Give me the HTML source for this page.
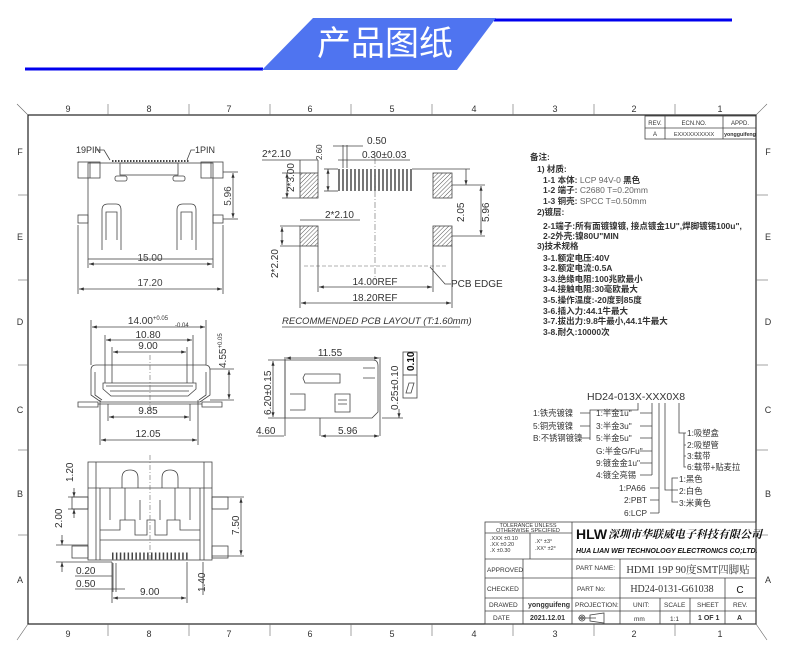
<!DOCTYPE html>
<html><head><meta charset="utf-8"><style>
html,body{margin:0;padding:0;background:#fff}
svg{display:block}
text{font-family:"Liberation Sans","Noto Sans CJK SC",sans-serif;fill:#333}
.s{font-family:"Liberation Serif","Noto Serif CJK SC",serif;fill:#111}
.d{font-size:10px;fill:#444}
.l{stroke:#444;stroke-width:0.8;fill:none}
.t{stroke:#666;stroke-width:0.6;fill:none}
.k{stroke:#222;stroke-width:1.2;fill:none}
</style></head><body>
<svg width="790" height="663" viewBox="0 0 790 663" xmlns="http://www.w3.org/2000/svg">
<defs>
<pattern id="h" width="3" height="3" patternUnits="userSpaceOnUse" patternTransform="rotate(45)"><line x1="0" y1="0" x2="0" y2="3" stroke="#555" stroke-width="1"/></pattern>
<marker id="a" markerWidth="6" markerHeight="4" refX="6" refY="2" orient="auto-start-reverse"><path d="M0,0 L6,2 L0,4z" fill="#333"/></marker>
</defs>
<line x1="25" y1="69" x2="263" y2="69" stroke="#0000ee" stroke-width="3"/>
<line x1="494" y1="20" x2="732" y2="20" stroke="#0000ee" stroke-width="3"/>
<polygon points="313,18 496,18 457,70 262,70" fill="#4f74f0"/>
<text x="385" y="55" text-anchor="middle" style="font-size:34px;fill:#fff;font-family:'Noto Sans CJK SC',sans-serif">产品图纸</text>
<rect x="28" y="115" width="728" height="509" class="k"/>
<path d="M17,104 L28,115 M767,104 L756,115 M17,640 L28,624 M767,640 L756,624" class="t"/>
<g class="t"><line x1="108" y1="104" x2="108" y2="115"/><line x1="189" y1="104" x2="189" y2="115"/><line x1="270" y1="104" x2="270" y2="115"/><line x1="351" y1="104" x2="351" y2="115"/><line x1="432" y1="104" x2="432" y2="115"/><line x1="513" y1="104" x2="513" y2="115"/><line x1="594" y1="104" x2="594" y2="115"/><line x1="675" y1="104" x2="675" y2="115"/>
<line x1="108" y1="624" x2="108" y2="636"/><line x1="189" y1="624" x2="189" y2="636"/><line x1="270" y1="624" x2="270" y2="636"/><line x1="351" y1="624" x2="351" y2="636"/><line x1="432" y1="624" x2="432" y2="636"/><line x1="513" y1="624" x2="513" y2="636"/><line x1="594" y1="624" x2="594" y2="636"/><line x1="675" y1="624" x2="675" y2="636"/>
<line x1="18" y1="195" x2="28" y2="195"/><line x1="18" y1="280" x2="28" y2="280"/><line x1="18" y1="365" x2="28" y2="365"/><line x1="18" y1="450" x2="28" y2="450"/><line x1="18" y1="535" x2="28" y2="535"/>
<line x1="756" y1="195" x2="768" y2="195"/><line x1="756" y1="280" x2="768" y2="280"/><line x1="756" y1="365" x2="768" y2="365"/><line x1="756" y1="450" x2="768" y2="450"/><line x1="756" y1="535" x2="768" y2="535"/></g>
<g style="font-size:9px" text-anchor="middle">
<text x="68" y="112">9</text><text x="149" y="112">8</text><text x="229" y="112">7</text><text x="310" y="112">6</text><text x="392" y="112">5</text><text x="474" y="112">4</text><text x="555" y="112">3</text><text x="634" y="112">2</text><text x="720" y="112">1</text>
<text x="68" y="637">9</text><text x="149" y="637">8</text><text x="229" y="637">7</text><text x="310" y="637">6</text><text x="392" y="637">5</text><text x="474" y="637">4</text><text x="555" y="637">3</text><text x="634" y="637">2</text><text x="720" y="637">1</text>
<text x="20" y="155">F</text><text x="20" y="240">E</text><text x="20" y="325">D</text><text x="20" y="413">C</text><text x="20" y="497">B</text><text x="20" y="583">A</text>
<text x="768" y="155">F</text><text x="768" y="240">E</text><text x="768" y="325">D</text><text x="768" y="413">C</text><text x="768" y="497">B</text><text x="768" y="583">A</text>
</g>
<g class="l"><rect x="645" y="116" width="111" height="23"/><line x1="645" y1="128" x2="756" y2="128"/><line x1="665" y1="116" x2="665" y2="139"/><line x1="723" y1="116" x2="723" y2="139"/></g>
<g style="font-size:6px" text-anchor="middle"><text x="655" y="125">REV.</text><text x="694" y="125">ECN.NO.</text><text x="740" y="125">APPD.</text><text x="655" y="136">A</text><text x="694" y="136" style="font-size:5.5px">EXXXXXXXXXX</text><text x="740" y="136" style="font-weight:bold;font-size:5.3px">yongguifeng</text></g>

<g class="l">
<rect x="88" y="163" width="125" height="96"/>
<rect x="78" y="162" width="22" height="16"/><rect x="201" y="162" width="22" height="16"/>
<line x1="90" y1="162" x2="90" y2="178"/><line x1="211" y1="162" x2="211" y2="178"/>
<rect x="120" y="163" width="58" height="12"/>
<rect x="115" y="176" width="12" height="5" rx="2"/><rect x="173" y="176" width="12" height="5" rx="2"/>
<rect x="78" y="215" width="10" height="8"/><rect x="213" y="215" width="10" height="8"/>
<path d="M102,250 L102,210 Q102,204 108,204 L116,204 Q121,204 121,210 L121,250"/><path d="M106,240 L106,212 L117,212 L117,240"/>
<path d="M177,250 L177,210 Q177,204 183,204 L191,204 Q196,204 196,210 L196,250"/><path d="M181,240 L181,212 L192,212 L192,240"/>
<line x1="88" y1="259" x2="88" y2="268"/><line x1="213" y1="259" x2="213" y2="268"/><line x1="78" y1="225" x2="78" y2="294"/><line x1="223" y1="225" x2="223" y2="294"/>
<line x1="223" y1="172" x2="238" y2="172"/><line x1="223" y1="219" x2="238" y2="219"/>
</g>
<path d="M112,161 h78" stroke="#444" stroke-width="2" stroke-dasharray="1.5,1.5"/>
<g class="l"><line x1="89" y1="264" x2="212" y2="264" marker-start="url(#a)" marker-end="url(#a)"/><line x1="79" y1="289" x2="222" y2="289" marker-start="url(#a)" marker-end="url(#a)"/><line x1="233" y1="173" x2="233" y2="218" marker-start="url(#a)" marker-end="url(#a)"/>
<path d="M96,150 L104,150 L110,160"/><path d="M195,150 L191,150 L187,160"/></g>
<text class="d" x="150" y="261" text-anchor="middle">15.00</text><text class="d" x="150" y="286" text-anchor="middle">17.20</text>
<text class="d" x="231" y="196" text-anchor="middle" transform="rotate(-90 231 196)">5.96</text>
<text x="76" y="153" style="font-size:9px">19PIN</text><text x="195" y="153" style="font-size:9px">1PIN</text>

<g stroke="#444" stroke-width="0.8"><rect x="300" y="173" width="18" height="25" fill="url(#h)"/><rect x="433" y="173" width="19" height="25" fill="url(#h)"/><rect x="300" y="226" width="18" height="20" fill="url(#h)"/><rect x="433" y="226" width="19" height="20" fill="url(#h)"/></g>
<g stroke="#555" stroke-width="1.6"><path d="M339,169v22M343,169v22M347,169v22M351,169v22M355,169v22M359,169v22M363,169v22M367,169v22M371,169v22M375,169v22M379,169v22M383,169v22M387,169v22M391,169v22M395,169v22M399,169v22M403,169v22M407,169v22M411,169v22"/></g>
<g class="t"><line x1="375" y1="158" x2="375" y2="280" stroke-dasharray="6,2,1,2"/><line x1="304" y1="266" x2="448" y2="266" stroke-dasharray="4,2"/></g>
<g class="l">
<line x1="300" y1="246" x2="300" y2="308"/><line x1="452" y1="246" x2="452" y2="308"/><line x1="318" y1="246" x2="318" y2="292"/><line x1="433" y1="246" x2="433" y2="292"/>
<line x1="319" y1="287" x2="432" y2="287" marker-start="url(#a)" marker-end="url(#a)"/><line x1="301" y1="303" x2="451" y2="303" marker-start="url(#a)" marker-end="url(#a)"/>
<line x1="262" y1="160" x2="318" y2="160"/><line x1="300" y1="160" x2="300" y2="173"/><line x1="318" y1="160" x2="318" y2="173"/>
<line x1="287" y1="173" x2="287" y2="198" marker-start="url(#a)" marker-end="url(#a)"/><line x1="282" y1="173" x2="300" y2="173"/><line x1="282" y1="198" x2="300" y2="198"/>
<line x1="328" y1="169" x2="328" y2="191" marker-start="url(#a)" marker-end="url(#a)"/><line x1="324" y1="169" x2="338" y2="169"/><line x1="324" y1="191" x2="338" y2="191"/>
<line x1="333" y1="146" x2="363" y2="146"/><line x1="343" y1="145" x2="343" y2="168"/><line x1="347" y1="145" x2="347" y2="168"/><line x1="338" y1="160" x2="410" y2="160"/>
<line x1="412" y1="169" x2="470" y2="169"/><line x1="452" y1="185" x2="485" y2="185"/><line x1="452" y1="236" x2="485" y2="236"/>
<line x1="466" y1="169" x2="466" y2="185" marker-end="url(#a)"/><line x1="481" y1="186" x2="481" y2="235" marker-start="url(#a)" marker-end="url(#a)"/>
<line x1="300" y1="220" x2="360" y2="220"/><line x1="280" y1="226" x2="300" y2="226"/><line x1="280" y1="246" x2="300" y2="246"/><line x1="282" y1="227" x2="282" y2="245" marker-start="url(#a)" marker-end="url(#a)"/>
<path d="M430,267 L445,284 L451,284"/>
<line x1="282" y1="327" x2="460" y2="327"/>
</g>
<g class="d" style="font-size:10px">
<text x="262" y="157">2*2.10</text><text x="367" y="144">0.50</text><text x="362" y="158">0.30±0.03</text>
<text x="322" y="160" transform="rotate(-90 322 160)" style="font-size:8px">2.60</text>
<text x="294" y="192" transform="rotate(-90 294 192)">2*3.00</text>
<text x="325" y="218">2*2.10</text>
<text x="278" y="278" transform="rotate(-90 278 278)">2*2.20</text>
<text x="464" y="222" transform="rotate(-90 464 222)">2.05</text><text x="489" y="222" transform="rotate(-90 489 222)">5.96</text>
<text x="451" y="287">PCB EDGE</text>
<text x="375" y="285" text-anchor="middle">14.00REF</text><text x="375" y="301" text-anchor="middle">18.20REF</text>
<text x="282" y="324" style="font-style:italic;font-size:9.5px">RECOMMENDED  PCB  LAYOUT  (T:1.60mm)</text>
</g>

<g class="l">
<path d="M91,370 Q91,365 96,365 L205,365 Q210,365 210,370 L210,395 L200,402 L101,402 L91,395 Z"/>
<path d="M95,372 L95,395 L102,400 M206,372 L206,395 L199,400"/>
<path d="M103,383 L196,383 L196,389 L188,396 L111,396 L103,389 Z"/><path d="M106,386 L193,386 M110,391 L189,391"/>
<path d="M78,402 L98,402 L98,407 L78,407 Z M202,402 L222,402 L222,407 L202,407 Z"/>
<line x1="98" y1="404" x2="202" y2="404"/>
<line x1="91" y1="320" x2="91" y2="365"/><line x1="206" y1="320" x2="206" y2="365"/>
<line x1="105" y1="335" x2="105" y2="383"/><line x1="193" y1="335" x2="193" y2="383"/>
<line x1="112" y1="347" x2="112" y2="383"/><line x1="187" y1="347" x2="187" y2="383"/>
<line x1="108" y1="404" x2="108" y2="421"/><line x1="190" y1="404" x2="190" y2="421"/><line x1="100" y1="400" x2="100" y2="445"/><line x1="198" y1="400" x2="198" y2="445"/>
<line x1="92" y1="327" x2="205" y2="327" marker-start="url(#a)" marker-end="url(#a)"/><line x1="106" y1="340" x2="192" y2="340" marker-start="url(#a)" marker-end="url(#a)"/><line x1="113" y1="352" x2="186" y2="352" marker-start="url(#a)" marker-end="url(#a)"/>
<line x1="109" y1="417" x2="189" y2="417" marker-start="url(#a)" marker-end="url(#a)"/><line x1="101" y1="440" x2="197" y2="440" marker-start="url(#a)" marker-end="url(#a)"/>
<line x1="210" y1="369" x2="234" y2="369"/><line x1="210" y1="400" x2="234" y2="400"/><line x1="229" y1="370" x2="229" y2="399" marker-start="url(#a)" marker-end="url(#a)"/>
</g>
<line x1="150" y1="355" x2="150" y2="412" class="t" stroke-dasharray="5,2,1,2"/>
<g class="d"><text x="148" y="324" text-anchor="middle">14.00<tspan style="font-size:6px" dy="-4">+0.05</tspan></text><text x="175" y="327" style="font-size:6px">-0.04</text>
<text x="148" y="338" text-anchor="middle">10.80</text><text x="148" y="349" text-anchor="middle">9.00</text>
<text x="148" y="414" text-anchor="middle">9.85</text><text x="148" y="437" text-anchor="middle">12.05</text>
<text x="226" y="368" transform="rotate(-90 226 368)">4.55<tspan style="font-size:6px" dy="-4">+0.05</tspan></text></g>

<g class="l">
<path d="M285,360 L373,360 Q378,360 378,366 L378,412 L372,418 L285,418 Z"/>
<path d="M290,394 L305,394 L305,410 L290,410"/><path d="M335,394 L350,394 L350,412 L335,412 Z M338,400 h9 M338,404 h9"/>
<path d="M305,383 L340,383 L340,374 L305,374 L303,378 Z"/><path d="M363,378 L375,378 M363,368 L375,368"/>
<line x1="285" y1="357" x2="285" y2="436"/><line x1="380" y1="357" x2="380" y2="418"/><line x1="320" y1="418" x2="320" y2="436"/><line x1="380" y1="418" x2="380" y2="436"/>
<line x1="286" y1="358" x2="379" y2="358" marker-start="url(#a)" marker-end="url(#a)"/>
<line x1="268" y1="360" x2="285" y2="360"/><line x1="268" y1="418" x2="285" y2="418"/><line x1="273" y1="361" x2="273" y2="417" marker-start="url(#a)" marker-end="url(#a)"/>
<line x1="258" y1="436" x2="284" y2="436"/><line x1="321" y1="436" x2="379" y2="436" marker-start="url(#a)" marker-end="url(#a)"/>
<line x1="382" y1="418" x2="403" y2="418"/><line x1="399" y1="409" x2="399" y2="418" marker-end="url(#a)"/>
<rect x="403" y="352" width="14" height="46"/><line x1="403" y1="375" x2="417" y2="375"/>
<path d="M406,393 L409,383 L414,383 L411,393 Z"/>
</g>
<g class="d"><text x="330" y="356" text-anchor="middle">11.55</text><text x="271" y="415" transform="rotate(-90 271 415)">6.20±0.15</text>
<text x="256" y="434">4.60</text><text x="338" y="434">5.96</text>
<text x="398" y="410" transform="rotate(-90 398 410)">0.25±0.10</text>
<text x="414" y="371" transform="rotate(-90 414 371)" style="font-weight:bold;fill:#111">0.10</text></g>

<g class="l">
<rect x="88" y="462" width="124" height="98"/>
<line x1="96" y1="462" x2="96" y2="560"/><line x1="204" y1="462" x2="204" y2="560"/>
<line x1="88" y1="488" x2="212" y2="488"/><line x1="100" y1="488" x2="100" y2="560"/><line x1="200" y1="488" x2="200" y2="560"/>
<path d="M122,488 L122,478 Q122,470 130,470 Q138,470 138,478 L138,488"/><path d="M162,488 L162,478 Q162,470 170,470 Q178,470 178,478 L178,488"/>
<path d="M110,488 L110,520 M125,488 L125,520 M140,500 L140,520 M160,500 L160,520 M175,488 L175,520 M190,488 L190,520"/>
<path d="M100,530 L120,530 L120,520 L135,520 L135,535 L147,535 L147,520 L155,520 L155,535 L167,535 L167,520 L180,520 L180,530 L200,530"/>
<line x1="100" y1="540" x2="200" y2="540"/>
<rect x="72" y="497" width="16" height="12"/><rect x="212" y="497" width="16" height="12"/><rect x="72" y="546" width="16" height="12"/><rect x="212" y="546" width="16" height="12"/>
<line x1="68" y1="497" x2="88" y2="497"/><line x1="68" y1="509" x2="88" y2="509"/><line x1="74" y1="488" x2="74" y2="497" marker-end="url(#a)"/><line x1="74" y1="518" x2="74" y2="509" marker-end="url(#a)"/>
<line x1="56" y1="545" x2="88" y2="545"/><line x1="56" y1="562" x2="112" y2="562"/><line x1="62" y1="535" x2="62" y2="545" marker-end="url(#a)"/><line x1="62" y1="572" x2="62" y2="562" marker-end="url(#a)"/>
<line x1="212" y1="497" x2="244" y2="497"/><line x1="212" y1="556" x2="244" y2="556"/><line x1="241" y1="498" x2="241" y2="555" marker-start="url(#a)" marker-end="url(#a)"/>
<line x1="203" y1="562" x2="203" y2="595"/>
<line x1="112" y1="562" x2="112" y2="603"/><line x1="187" y1="562" x2="187" y2="603"/><line x1="113" y1="598" x2="186" y2="598" marker-start="url(#a)" marker-end="url(#a)"/>
<line x1="75" y1="576" x2="112" y2="576"/><line x1="75" y1="589" x2="125" y2="589"/><line x1="113" y1="563" x2="113" y2="592"/><line x1="116" y1="563" x2="116" y2="592"/>
</g>
<path d="M112,556 h76" stroke="#444" stroke-width="7" stroke-dasharray="1.5,2.4" fill="none"/>
<line x1="150" y1="455" x2="150" y2="560" class="t" stroke-dasharray="5,2,1,2"/>
<g class="d"><text x="73" y="482" transform="rotate(-90 73 482)">1.20</text><text x="62" y="528" transform="rotate(-90 62 528)">2.00</text>
<text x="239" y="535" transform="rotate(-90 239 535)">7.50</text><text x="205" y="592" transform="rotate(-90 205 592)">1.40</text>
<text x="76" y="574">0.20</text><text x="76" y="587">0.50</text><text x="140" y="595">9.00</text></g>

<g class="s" style="font-size:8.5px;font-weight:bold">
<text x="530" y="160">备注:</text>
<text x="537" y="172">1) 材质:</text>
<text x="543" y="183">1-1 本体: <tspan style="font-weight:normal;fill:#666">LCP 94V-0</tspan> 黑色</text>
<text x="543" y="193">1-2 端子: <tspan style="font-weight:normal;fill:#666">C2680 T=0.20mm</tspan></text>
<text x="543" y="204">1-3 铜壳: <tspan style="font-weight:normal;fill:#666">SPCC T=0.50mm</tspan></text>
<text x="537" y="215">2)镀层:</text>
<text x="543" y="229">2-1端子:所有面镀镍镀, 接点镀金1U",焊脚镀锡100u",</text>
<text x="543" y="239">2-2外壳:镍80U"MIN</text>
<text x="537" y="249">3)技术规格</text>
<text x="543" y="261">3-1.额定电压:40V</text>
<text x="543" y="271">3-2.额定电流:0.5A</text>
<text x="543" y="282">3-3.绝缘电阻:100兆欧最小</text>
<text x="543" y="292">3-4.接触电阻:30毫欧最大</text>
<text x="543" y="303">3-5.操作温度:-20度到85度</text>
<text x="543" y="314">3-6.插入力:44.1牛最大</text>
<text x="543" y="324">3-7.拔出力:9.8牛最小,44.1牛最大</text>
<text x="543" y="335">3-8.耐久:10000次</text>
</g>

<text x="587" y="400" style="font-size:10.5px;fill:#333">HD24-013X-XXX0X8</text>
<g class="l">
<path d="M638,403 L638,410 L590,410 L590,440 M580,413 L590,413 M580,426 L590,426 M580,438 L590,438"/>
<path d="M652,403 L652,475 M640,413 L652,413 M640,426 L652,426 M640,438 L652,438 M640,451 L652,451 M640,463 L652,463 M640,475 L652,475"/>
<path d="M659,403 L659,513 M650,488 L659,488 M650,500 L659,500 M650,513 L659,513"/>
<path d="M665,403 L665,490 L678,490 M678,478 L672,478 L672,502 L678,502"/>
<path d="M679,403 L679,433 L686,433 M686,433 L684,433 L684,467 L686,467 M684,445 L686,445 M684,456 L686,456"/>
</g>
<g class="s" style="font-size:8.3px;fill:#333">
<text x="533" y="416">1:铁壳镀镍</text><text x="533" y="429">5:铜壳镀镍</text><text x="533" y="441">B:不锈钢镀镍</text>
<text x="596" y="416">1:半金1u"</text><text x="596" y="429">3:半金3u"</text><text x="596" y="441">5:半金5u"</text><text x="596" y="454">G:半金G/Fu"</text><text x="596" y="466">9:镀金金1u"</text><text x="596" y="478">4:镀全亮锡</text>
<text x="619" y="491">1:PA66</text><text x="624" y="503">2:PBT</text><text x="624" y="516">6:LCP</text>
<text x="687" y="436">1:吸塑盒</text><text x="687" y="448">2:吸塑管</text><text x="687" y="459">3:载带</text><text x="687" y="470">6:载带+贴麦拉</text>
<text x="679" y="482">1:黑色</text><text x="679" y="494">2:白色</text><text x="679" y="506">3:米黄色</text>
</g>

<g class="l">
<rect x="485" y="522" width="271" height="102"/>
<line x1="485" y1="559" x2="756" y2="559"/><line x1="485" y1="578" x2="756" y2="578"/><line x1="485" y1="598" x2="756" y2="598"/><line x1="485" y1="611" x2="756" y2="611"/>
<line x1="572" y1="522" x2="572" y2="624"/><line x1="523" y1="559" x2="523" y2="624"/><line x1="620" y1="559" x2="620" y2="624"/>
<line x1="725" y1="578" x2="725" y2="624"/><line x1="660" y1="598" x2="660" y2="624"/><line x1="690" y1="598" x2="690" y2="624"/>
<line x1="485" y1="533" x2="572" y2="533"/><line x1="530" y1="533" x2="530" y2="559"/>
<circle cx="582" cy="618" r="3"/><circle cx="582" cy="618" r="1.3"/><path d="M578,618 h18 M590,615 L604,613 L604,623 L590,621 Z"/>
</g>
<g style="font-size:5.5px;fill:#555" text-anchor="middle"><text x="528" y="527">TOLERANCE UNLESS</text><text x="528" y="532">OTHERWISE SPECIFIED</text></g>
<g style="font-size:5.5px;fill:#555"><text x="490" y="540">.XXX  ±0.10</text><text x="490" y="546">.XX   ±0.20</text><text x="490" y="552">.X    ±0.30</text><text x="535" y="543">.X°    ±3°</text><text x="535" y="550">.XX°   ±2°</text></g>
<text x="576" y="539" style="font-size:14px;font-weight:bold;fill:#111">HLW</text>
<text x="608" y="538" style="font-size:11px;font-style:italic;font-weight:bold;fill:#111;font-family:'Noto Serif CJK SC',serif">深圳市华联威电子科技有限公司</text>
<text x="576" y="553" style="font-size:7px;font-weight:bold;font-style:italic;fill:#111">HUA LIAN WEI TECHNOLOGY ELECTRONICS CO;LTD.</text>
<g style="font-size:6.5px;fill:#555"><text x="487" y="572">APPROVED</text><text x="487" y="591">CHECKED</text><text x="489" y="607">DRAWED</text><text x="493" y="620">DATE</text>
<text x="576" y="570">PART  NAME:</text><text x="577" y="591">PART  No:</text><text x="575" y="607">PROJECTION:</text>
<text x="633" y="607">UNIT:</text><text x="664" y="607">SCALE</text><text x="697" y="607">SHEET</text><text x="733" y="607">REV.</text>
<text x="634" y="621">mm</text><text x="670" y="621">1:1</text></g>
<g style="font-size:7px;font-weight:bold;fill:#111"><text x="528" y="607">yongguifeng</text><text x="530" y="620">2021.12.01</text><text x="698" y="620">1 OF 1</text><text x="737" y="620">A</text></g>
<text x="688" y="573" text-anchor="middle" class="s" style="font-size:10.5px;fill:#333">HDMI 19P 90度SMT四脚贴</text>
<text x="672" y="592" text-anchor="middle" class="s" style="font-size:10px;fill:#333">HD24-0131-G61038</text>
<text x="740" y="593" text-anchor="middle" style="font-size:10px;fill:#111">C</text>
</svg>
</body></html>
